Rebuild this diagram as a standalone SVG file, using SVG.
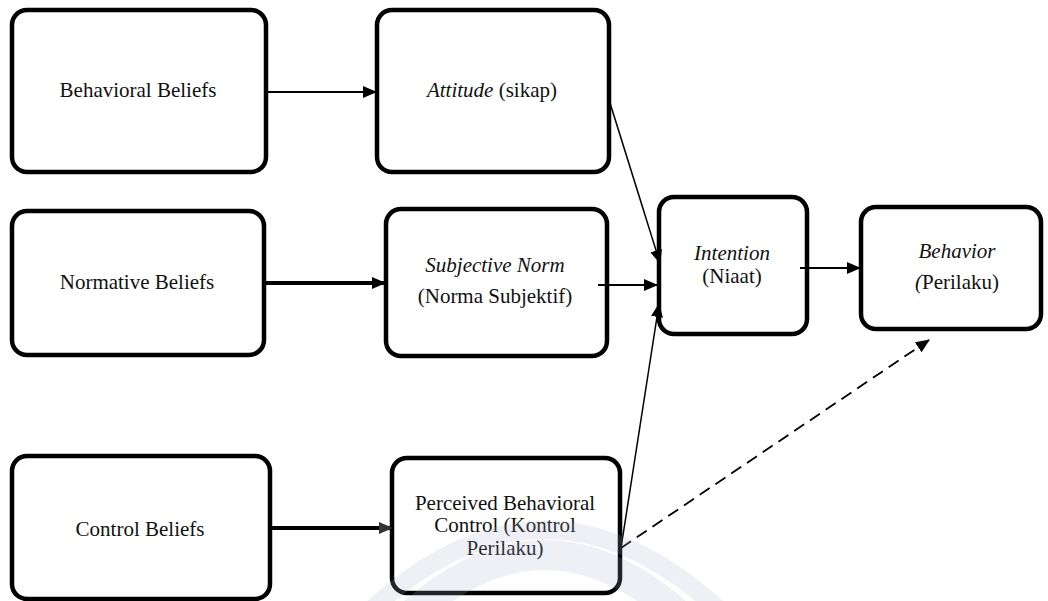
<svg xmlns="http://www.w3.org/2000/svg" width="1048" height="601" viewBox="0 0 1048 601">
<defs>
<style>
.box{fill:#fff;stroke:#000;stroke-width:4.5}
.t{font-family:"Liberation Serif","DejaVu Serif",serif;font-size:21px;fill:#111;text-anchor:middle}
.i{font-style:italic}
.c{stroke:#000;fill:none}
.wm{fill:none;stroke:#aab3cc;stroke-opacity:0.2}
</style>
<marker id="ah" viewBox="0 0 14 12" refX="13" refY="6" markerWidth="14" markerHeight="12" markerUnits="userSpaceOnUse" orient="auto"><path d="M0,0 L14,6 L0,12 z" fill="#000"/></marker>
<marker id="ah2" viewBox="0 0 14 12" refX="13" refY="6" markerWidth="14" markerHeight="12" markerUnits="userSpaceOnUse" orient="auto"><path d="M0,0 L14,6 L0,12 z" fill="#333"/></marker>
</defs>
<rect width="1048" height="601" fill="#fff"/>
<g id="n-behavioral-beliefs"><rect class="box" x="12" y="10" width="254" height="162" rx="15"/><text class="t" x="138" y="97">Behavioral Beliefs</text></g>
<g id="n-attitude"><rect class="box" x="377" y="10" width="232" height="162" rx="15"/><text class="t" x="492" y="97"><tspan class="i">Attitude</tspan> (sikap)</text></g>
<g id="n-normative-beliefs"><rect class="box" x="12" y="211" width="252" height="144" rx="15"/><text class="t" x="137" y="289">Normative Beliefs</text></g>
<g id="n-subjective-norm"><rect class="box" x="386" y="209" width="221" height="147" rx="15"/><text class="t i" x="495" y="272">Subjective Norm</text><text class="t" x="495" y="303">(Norma Subjektif)</text></g>
<g id="n-intention"><rect class="box" x="659" y="197" width="148" height="137" rx="15"/><text class="t i" x="732" y="260">Intention</text><text class="t" x="732" y="283">(Niaat)</text></g>
<g id="n-behavior"><rect class="box" x="861" y="207" width="180" height="122" rx="15"/><text class="t i" x="957" y="258">Behavior</text><text class="t" x="957" y="289"><tspan class="i">(</tspan>Perilaku)</text></g>
<g id="n-control-beliefs"><rect class="box" x="12" y="456" width="258" height="143" rx="15"/><text class="t" x="140" y="536">Control Beliefs</text></g>
<g id="n-pbc"><rect class="box" x="392" y="458" width="228" height="135" rx="15"/><text class="t" x="505" y="510">Perceived Behavioral</text><text class="t" x="505" y="532">Control (Kontrol</text><text class="t" x="505" y="555">Perilaku)</text></g>
<g id="connectors">
<line class="c" x1="268" y1="92" x2="376" y2="92" stroke-width="2" marker-end="url(#ah)"/>
<line class="c" x1="264" y1="283" x2="385" y2="283" stroke-width="4" marker-end="url(#ah)"/>
<line class="c" x1="272" y1="528" x2="392" y2="528" stroke="#333" stroke-width="4" marker-end="url(#ah2)"/>
<line class="c" x1="610" y1="103" x2="660" y2="263" stroke-width="1.5" marker-end="url(#ah)"/>
<line class="c" x1="598" y1="285" x2="657" y2="285" stroke-width="1.8" marker-end="url(#ah)"/>
<line class="c" x1="621" y1="548" x2="659" y2="304" stroke-width="1.5" marker-end="url(#ah)"/>
<line class="c" x1="800" y1="268" x2="860" y2="268" stroke-width="1.8" marker-end="url(#ah)"/>
<line class="c" x1="621" y1="548" x2="929" y2="340" stroke-width="1.8" stroke-dasharray="12,7" marker-end="url(#ah)"/>
</g>
<path class="wm" d="M360,620 Q545,440 730,620" stroke-width="18"/>
<path class="wm" d="M395,630 Q545,480 695,630" stroke-width="30"/>
</svg>
